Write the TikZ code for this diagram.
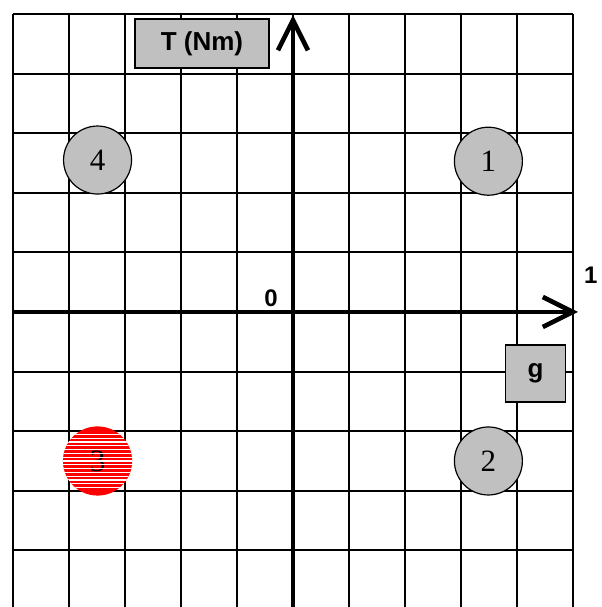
\documentclass[tikz,border=0pt]{standalone}
\usepackage{fontspec}
\setmainfont{Liberation Serif}
\newfontfamily\labelfont{Liberation Sans}
\usepackage{tikz}
\usetikzlibrary{arrows.meta}
\definecolor{boxgray}{RGB}{192,192,192}

\begin{document}
\begin{tikzpicture}[
  x=28pt, y=29.8pt,
  gridline/.style={line width=1pt},
  axis/.style={line width=2.3pt, -{Straight Barb[length=15pt,width=15pt]}},
  quad/.style={circle, draw, line width=0.6pt, fill=boxgray, minimum size=34pt, inner sep=0pt, font=\fontsize{15.5}{15.5}\selectfont},
  tag/.style={draw, line width=0.6pt, fill=boxgray, inner sep=0pt, font=\labelfont\bfseries\fontsize{13}{13}\selectfont},
  axlabel/.style={font=\labelfont\bfseries\fontsize{12}{12}\selectfont},
  stripe/.style={white, line width=0.55pt}
]
  \useasboundingbox (-5.232,-4.95) rectangle (5.518,5.235);

  % grid
  \foreach \i in {-5,...,5}
    \draw[gridline] (\i,5) -- (\i,-4.95);
  \foreach \j in {-4,...,5}
    \draw[gridline] (-5,\j) -- (5,\j);

  % axes
  \coordinate (xstart) at (-5,0);
  \coordinate (xend) at (5.09,0);
  \coordinate (ystart) at (0,-4.95);
  \coordinate (yend) at (0,4.98);
  \draw[axis] (xstart) -- (xend);
  \draw[axis] (ystart) -- (yend);

  \node[axlabel] (origin) at (-0.393,0.235) {0};
  \node[axlabel] (one) at (5.32,0.62) {1};
  \node[tag, minimum width=67pt, minimum height=24.5pt] (torque) at (-1.625,4.505) {T (Nm)};
  \node[tag, minimum width=30pt, minimum height=28.5pt] (speed) at (4.334,-1.032) {g};

  % quadrants
  \node[quad] (q1) at (3.49,2.53) {1};
  \node[quad] (q2) at (3.49,-2.5) {2};
  \node[quad] (q4) at (-3.49,2.55) {4};
  \node[quad, fill=red, draw=red] (q3) at (-3.49,-2.5) {3};
  \begin{scope}[shift={(q3.center)}]
    \clip (0,0) circle[radius=17.3pt];
    \foreach \k in {-7,...,7}
      \draw[stripe] (-18pt,\k*1.9pt) -- (18pt,\k*1.9pt);
  \end{scope}
\end{tikzpicture}
\end{document}
